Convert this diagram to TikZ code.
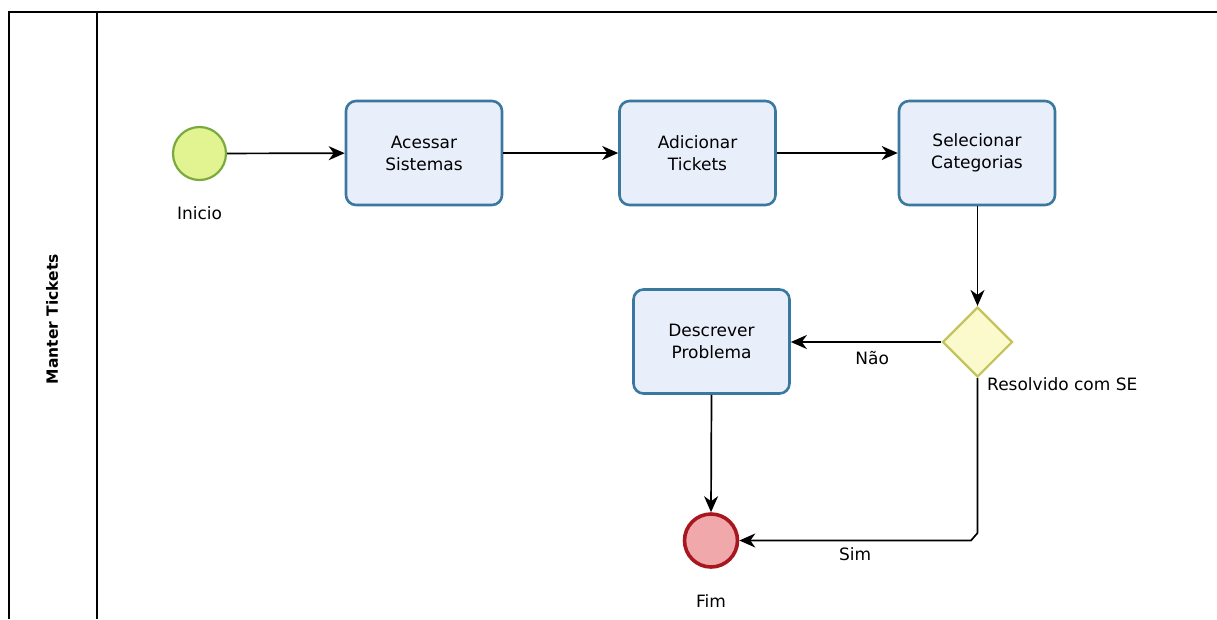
\documentclass[tikz,border=0pt]{standalone}
\usepackage{fontspec}
\setmainfont{DejaVu Sans}
\usetikzlibrary{arrows.meta,shapes.geometric}
\definecolor{taskfill}{RGB}{232,238,250}
\definecolor{taskline}{RGB}{58,120,160}
\definecolor{startfill}{RGB}{226,244,146}
\definecolor{startline}{RGB}{122,170,62}
\definecolor{endfill}{RGB}{240,168,170}
\definecolor{endline}{RGB}{168,22,32}
\definecolor{gatefill}{RGB}{250,250,204}
\definecolor{gateline}{RGB}{196,196,90}
\tikzset{
  task/.style={draw=taskline, fill=taskfill, line width=2.6pt, rounded corners=10pt,
    minimum width=156pt, minimum height=104pt, align=center, inner sep=0pt,
    font=\fontsize{17}{22}\selectfont},
  startev/.style={circle, draw=startline, fill=startfill, line width=2.2pt, minimum size=53pt, inner sep=0pt},
  endev/.style={circle, draw=endline, fill=endfill, line width=3.6pt, minimum size=53pt, inner sep=0pt},
  gate/.style={diamond, draw=gateline, fill=gatefill, line width=2.2pt, minimum size=70pt, inner sep=0pt},
  lbl/.style={font=\fontsize{17}{20}\selectfont, inner sep=0pt},
  flow/.style={draw=black, line width=1.7pt, -{Stealth[length=16pt,width=14pt,inset=5pt]}},
  lane/.style={draw=black, line width=1.6pt}
}
\begin{document}
\begin{tikzpicture}[x=1pt,y=-1pt]
  \useasboundingbox (0,0) rectangle (1217,619);
  % pool and lane frame
  \draw[lane] (9,619) -- (9,12) -- (1217,12);
  \draw[lane] (97,12) -- (97,619);
  \node[rotate=90, font=\bfseries\fontsize{15.5}{18}\selectfont] (lanename) at (52,319) {Manter Tickets};

  % events, tasks and gateway
  \node[startev] (inicio) at (199.5,153.5) {};
  \node[lbl] (inicioLbl) at (199.5,213) {Inicio};
  \node[task] (acessar) at (424,153) {Acessar\\Sistemas};
  \node[task] (adicionar) at (697.5,153) {Adicionar\\Tickets};
  \node[task] (selecionar) at (977,153) {Selecionar\\Categorias};
  \node[gate] (resolvido) at (977.5,342) {};
  \node[lbl, anchor=west] (resolvidoLbl) at (987,384) {Resolvido com SE};
  \node[task] (descrever) at (711.5,341.5) {Descrever\\Problema};
  \node[endev] (fim) at (711,540.5) {};
  \node[lbl] (fimLbl) at (711,601) {Fim};
  \coordinate (simA) at (977.5,533);
  \coordinate (simB) at (971,540.5);

  % sequence flows
  \draw[flow] (inicio) -- (acessar);
  \draw[flow] (acessar) -- (adicionar);
  \draw[flow] (adicionar) -- (selecionar);
  \draw[flow] (selecionar.south -| resolvido) -- (resolvido.north);
  \draw[flow] (resolvido.west) -- node[lbl, pos=0.46, below=8pt] {Não} (descrever.east |- resolvido.west);
  \draw[flow] (descrever.south) -- (fim.north);
  \draw[flow] (resolvido.south) -- (simA) -- (simB) -- node[lbl, pos=0.5, below=6pt] {Sim} (fim.east);
\end{tikzpicture}
\end{document}
